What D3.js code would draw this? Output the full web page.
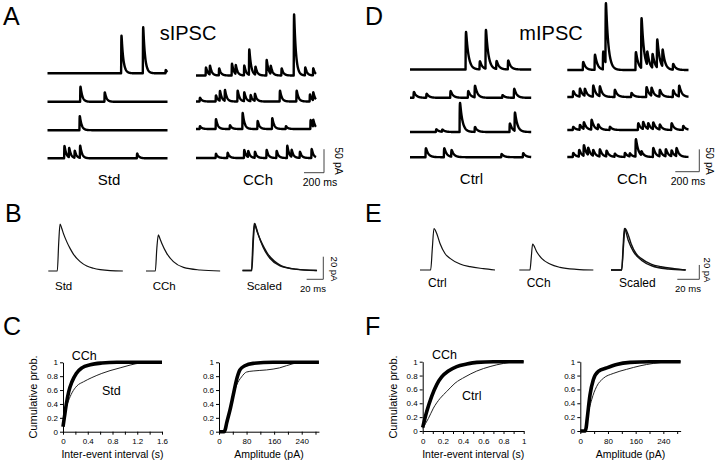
<!DOCTYPE html>
<html><head><meta charset="utf-8">
<script src="https://cdn.jsdelivr.net/npm/d3@7"></script>
<style>body{margin:0;background:#fff}svg{display:block}</style>
</head><body>
<svg id="c" width="720" height="464"></svg>
<script>
// ================= DATA =================
// Panel A (sIPSC) events: [time ms, amplitude pA]
const sStd1 = [[740,80],[957,98],[1183,7]];
const sStd2 = [[330,32],[573,20]];
const sStd3 = [[323,30]];
const sStd4 = [[170,26],[217,20],[273,15],[327,26],[897,10]];
const sCCh1 = [[100,17],[140,19],[232,15],[360,25],[398,19],[483,21],[533,54],[595,17],[707,33],[748,17],[857,15],[981,130],[1093,17],[1173,15]];
const sCCh2 = [[40,8],[200,13],[240,21],[290,23],[417,23],[483,19],[547,13],[590,15],[840,23],[1007,23],[1140,15],[1173,17]];
const sCCh3 = [[40,6],[200,21],[340,8],[467,34],[617,17],[763,23],[900,6],[1147,19],[1173,15]];
const sCCh4 = [[200,9],[317,11],[483,17],[523,13],[590,13],[707,17],[807,15],[913,26],[957,15],[1040,13],[1157,19]];
// Panel D (mIPSC) events: [time ms, amplitude pA]
const mCtrl1 = [[467,84],[583,18],[633,87],[722,18],[819,20]];
const mCtrl2 = [[33,13],[139,9],[339,15],[486,15],[542,26],[772,6],[869,20]];
const mCtrl3 = [[220,6],[270,5],[417,65],[542,11],[833,19],[875,41]];
const mCtrl4 = [[133,20],[286,20],[347,15],[764,7],[944,9]];
const mCCh1 = [[133,18],[231,34],[300,40],[322,135],[572,40],[619,112],[667,30],[711,31],[750,63],[795,38],[883,13]];
const mCCh2 = [[50,13],[106,18],[147,16],[217,25],[272,22],[397,16],[536,9],[661,22],[703,18],[772,15],[883,15],[933,24]];
const mCCh3 = [[50,7],[106,11],[139,15],[203,22],[258,11],[356,7],[592,15],[633,16],[675,13],[717,15],[772,11],[870,15],[967,9]];
const mCCh4 = [[50,9],[100,15],[139,24],[175,16],[217,13],[272,16],[328,13],[397,7],[481,9],[522,7],[572,39],[619,9],[717,20],[772,15],[822,16],[870,13],[911,18]];
// Panel B averaged sIPSCs: [time ms, pA]
const avgStd = [[0,0],[10.8,0],[12.5,25],[14.1,41.6],[16.1,37.8],[18.1,33.3],[22.1,26],[26.1,20],[30.1,15],[38.2,8.3],[46.2,4.4],[54.2,2.4],[62.3,1.2],[74.3,0.3],[89.5,0]];
const avgSCCh = [[0,0],[11.2,0],[13,20],[14.8,31.9],[16.8,28.5],[18.9,24.5],[24.9,15.6],[32.9,8.3],[45,3.2],[65,0.9],[89,0]];
// Panel E averaged mIPSCs: [time ms, pA]
const avgCtrl = [[0,0],[9.7,0],[11.2,30],[12.7,57.9],[15.2,50.9],[18.2,37],[22.7,23],[27.3,16.2],[36.4,8.3],[45.5,4.6],[57.6,1.9],[68.2,0]];
const avgMCCh = [[0,0],[9.7,0],[10.9,18],[12.1,36.1],[15.8,25.5],[20.3,16.2],[27.9,8.3],[37,3.7],[52,0.9],[67.3,0]];
// Panel C cumulative probabilities
const cIntCCh = [[0,0.07],[0.021,0.2],[0.054,0.4],[0.091,0.57],[0.145,0.72],[0.215,0.84],[0.306,0.92],[0.44,0.965],[0.628,0.99],[0.87,1.0],[1.6,1.0]];
const cIntStd = [[0,0.1],[0.038,0.3],[0.091,0.45],[0.145,0.56],[0.225,0.66],[0.333,0.72],[0.467,0.78],[0.628,0.84],[0.76,0.88],[0.923,0.92],[1.085,0.96],[1.245,0.99],[1.41,1.0],[1.6,1.0]];
const cAmpCCh = [[0,0],[15,0],[18,0.03],[22,0.12],[31.8,0.31],[41.4,0.53],[51,0.75],[60.7,0.89],[75,0.95],[99,0.985],[157,1.0],[290,1.0]];
const cAmpStd = [[0,0],[15,0],[18,0.03],[22,0.1],[36.6,0.43],[51,0.67],[65.5,0.79],[80,0.86],[99,0.875],[138,0.89],[176,0.92],[215,0.98],[253,1.0],[290,1.0]];
// Panel F cumulative probabilities
const fIntCCh = [[0,0.05],[0.04,0.28],[0.089,0.5],[0.139,0.67],[0.188,0.78],[0.254,0.865],[0.337,0.93],[0.436,0.966],[0.535,0.99],[0.7,1.0],[1,1.0]];
const fIntCtrl = [[0,0.04],[0.056,0.18],[0.106,0.33],[0.172,0.47],[0.238,0.57],[0.32,0.69],[0.419,0.78],[0.535,0.865],[0.667,0.93],[0.8,0.975],[0.9,0.995],[1,1.0]];
const fAmpCCh = [[0,0],[14,0],[17,0.05],[20,0.18],[28,0.52],[37.6,0.74],[52,0.86],[76,0.91],[105,0.96],[143.6,0.99],[201,1.0],[290,1.0]];
const fAmpCtrl = [[0,0],[14,0],[17,0.04],[20,0.16],[32.8,0.45],[47,0.64],[66.5,0.76],[95,0.83],[134,0.89],[172.5,0.94],[211,0.975],[250,0.995],[290,1.0]];
// Tick values / labels
const probTicks = [0,0.2,0.4,0.6,0.8,1];
const cIntTicks = [0,0.2,0.4,0.6,0.8,1.0,1.2,1.4,1.6];
const cIntLabels = [0,0.4,0.8,1.2,1.6];
const fIntTicks = [0,0.1,0.2,0.3,0.4,0.5,0.6,0.7,0.8,0.9,1];
const fIntLabels = [0,0.2,0.4,0.6,0.8,1];
const ampTicks = [0,40,80,120,160,200,240,280];
const ampLabels = [0,80,160,240];

// ================= DRAWING =================
const FONT = '"Liberation Sans", Arial, Helvetica, sans-serif';
const svg = d3.select("#c");

function text(x, y, s, size, anchor, rot) {
  const t = svg.append("text").attr("font-family", FONT).attr("font-size", size)
    .attr("text-anchor", anchor || "start").attr("fill", "#000").text(s);
  if (rot) t.attr("transform", `translate(${x},${y}) rotate(${rot})`);
  else t.attr("x", x).attr("y", y);
  return t;
}

// panel letters
[["A",3,25],["B",5,222],["C",3,335],["D",365,25],["E",365,222],["F",365,335]]
  .forEach(d => text(d[1], d[2], d[0], 25));

text(188, 40, "sIPSC", 20, "middle");
text(551, 40, "mIPSC", 20, "middle");

// ---- raw traces ----
function kernel(rise, decay) {
  const tpk = rise * Math.log(1 + decay / rise);
  const norm = (1 - Math.exp(-tpk / rise)) * Math.exp(-tpk / decay);
  return dt => { const s = dt + tpk; return s <= 0 ? 0 : (1 - Math.exp(-s / rise)) * Math.exp(-s / decay) / norm; };
}
function drawTrace(events, x0, yb, L) {
  const k = kernel(L.rise, L.decay);
  const x = d3.scaleLinear().domain([0, L.dur]).range([x0, x0 + L.dur * L.pxPerMs]);
  const y = d3.scaleLinear().domain([0, 50]).range([yb, yb - 50 * L.pxPerPA]);
  const ts = d3.range(0, L.dur + 0.01, 1).concat(events.map(e => e[0])).sort((a, b) => a - b);
  const pts = ts.map(t => [t, d3.sum(events, e => e[1] * k(t - e[0]))]);
  svg.append("path").attr("d", d3.line().x(d => x(d[0])).y(d => y(d[1]))(pts))
    .attr("fill", "none").attr("stroke", "#000").attr("stroke-width", 2.4)
    .attr("stroke-linejoin", "round");
}
function scaleBar(xr, yb, L, vVal, hVal, vLab, hLab, vx, vy, hx, hy, fs) {
  const x = d3.scaleLinear().domain([0, hVal]).range([xr - hVal * L.pxPerMs, xr]);
  const y = d3.scaleLinear().domain([0, vVal]).range([yb, yb - vVal * L.pxPerPA]);
  svg.append("path").attr("d", `M${x(0)},${y(0)}H${x(hVal)}V${y(vVal)}`)
    .attr("fill", "none").attr("stroke", "#444").attr("stroke-width", 1);
  text(vx, vy, vLab, fs, "middle", 90);
  text(hx, hy, hLab, fs, "middle");
}

const LA = {dur: 1200, pxPerMs: 0.1, pxPerPA: 0.47, rise: 1.2, decay: 18};
const LD = {dur: 1010, pxPerMs: 0.12, pxPerPA: 0.447, rise: 1.5, decay: 20};
[[sStd1,73.3],[sStd2,101.8],[sStd3,130.2],[sStd4,158.3]].forEach(d => drawTrace(d[0], 47.5, d[1], LA));
[[sCCh1,75.5],[sCCh2,101.5],[sCCh3,129],[sCCh4,158]].forEach(d => drawTrace(d[0], 196, d[1], LA));
[[mCtrl1,69.5],[mCtrl2,97.8],[mCtrl3,132],[mCtrl4,157.2]].forEach(d => drawTrace(d[0], 410, d[1], LD));
[[mCCh1,70],[mCCh2,97],[mCCh3,130],[mCCh4,157]].forEach(d => drawTrace(d[0], 567.3, d[1], LD));
text(109, 185, "Std", 15, "middle");
text(258, 185, "CCh", 15, "middle");
text(471.5, 184, "Ctrl", 15, "middle");
text(632, 184, "CCh", 15, "middle");
scaleBar(324, 172.7, LA, 50, 200, "50 pA", "200 ms", 335, 161, 320, 186, 10.5);
scaleBar(699.3, 171.7, LD, 50, 200, "50 pA", "200 ms", 706, 161, 688, 185, 10.5);

// ---- averaged events ----
function drawWave(data, x0, yb, L, k, sw) {
  const x = d3.scaleLinear().domain([0, 1]).range([x0, x0 + L.pxPerMs]);
  const y = d3.scaleLinear().domain([0, 1]).range([yb, yb - L.pxPerPA]);
  svg.append("path").attr("d", d3.line().x(d => x(d[0])).y(d => y(d[1] * (k || 1))).curve(d3.curveMonotoneX)(data))
    .attr("fill", "none").attr("stroke", "#111").attr("stroke-width", sw || 1.2);
}
const peak = a => d3.max(a, d => d[1]);
const LB = {pxPerMs: 0.833, pxPerPA: 1.13};
const LE = {pxPerMs: 1.1, pxPerPA: 0.717};
drawWave(avgStd, 48.3, 271, LB);
drawWave(avgSCCh, 146, 271, LB);
drawWave(avgStd, 242.5, 270.5, LB, 1, 1.4);
drawWave(avgSCCh, 242.5, 270.5, LB, peak(avgStd) / peak(avgSCCh), 1.4);
drawWave(avgCtrl, 420, 270, LE);
drawWave(avgMCCh, 519.3, 270, LE);
drawWave(avgCtrl, 611, 270, LE, 1, 1.4);
drawWave(avgMCCh, 611, 270, LE, peak(avgCtrl) / peak(avgMCCh), 1.4);
text(55, 290, "Std", 11.5);
text(152.7, 290, "CCh", 11.5);
text(246.7, 290, "Scaled", 11.5);
text(428, 287, "Ctrl", 12);
text(526.7, 287, "CCh", 12);
text(619, 287, "Scaled", 12);
scaleBar(323.3, 279.3, LB, 20, 20, "20 pA", "20 ms", 331, 269, 313, 292, 9.5);
scaleBar(699.3, 279.3, LE, 20, 20, "20 pA", "20 ms", 704, 270, 688, 292, 9.5);

// ---- cumulative plots ----
function cdf(o) {
  const x = d3.scaleLinear().domain([0, o.xmax]).range([o.x0, o.x1]);
  const y = d3.scaleLinear().domain([0, 1]).range([o.y0, o.y1]);
  const g = svg.append("g");
  g.append("g").attr("transform", `translate(${o.x0},0)`)
    .call(d3.axisLeft(y).tickValues(probTicks).tickSize(3).tickSizeOuter(0).tickPadding(2)
      .tickFormat(d => String(+d.toFixed(1))));
  g.append("g").attr("transform", `translate(0,${o.y0})`)
    .call(d3.axisBottom(x).tickValues(o.ticks).tickSize(3).tickSizeOuter(0).tickPadding(4)
      .tickFormat(d => o.labels.includes(d) ? String(d) : ""));
  g.selectAll("text").attr("font-size", 8).attr("font-family", FONT).attr("fill", "#000");
  g.selectAll(".domain, .tick line").attr("stroke", "#000");
  const line = d3.line().x(d => x(d[0])).y(d => y(d[1])).curve(d3.curveMonotoneX);
  g.append("path").attr("d", line(o.thin)).attr("fill", "none").attr("stroke", "#222").attr("stroke-width", 1);
  g.append("path").attr("d", line(o.thick)).attr("fill", "none").attr("stroke", "#000").attr("stroke-width", 3.6);
  text((o.x0 + o.x1) / 2, 458, o.title, 10.5, "middle");
}
cdf({x0: 63, x1: 162, y0: 431.7, y1: 362.3, xmax: 1.6, ticks: cIntTicks, labels: cIntLabels, thin: cIntStd, thick: cIntCCh, title: "Inter-event interval (s)"});
cdf({x0: 219, x1: 219 + 290 * 0.3446, y0: 431.7, y1: 362.3, xmax: 290, ticks: ampTicks, labels: ampLabels, thin: cAmpStd, thick: cAmpCCh, title: "Amplitude (pA)"});
cdf({x0: 422.7, x1: 523.7, y0: 431, y1: 361.7, xmax: 1, ticks: fIntTicks, labels: fIntLabels, thin: fIntCtrl, thick: fIntCCh, title: "Inter-event interval (s)"});
cdf({x0: 580.3, x1: 580.3 + 290 * 0.346, y0: 431, y1: 361.7, xmax: 290, ticks: ampTicks, labels: ampLabels, thin: fAmpCtrl, thick: fAmpCCh, title: "Amplitude (pA)"});
text(36.5, 397, "Cumulative prob.", 11, "middle", -90);
text(396.5, 397, "Cumulative prob.", 11, "middle", -90);
text(71.7, 360, "CCh", 12.5);
text(102, 395, "Std", 12.5);
text(432, 359, "CCh", 12.5);
text(462, 400, "Ctrl", 12.5);
</script>
</body></html>
